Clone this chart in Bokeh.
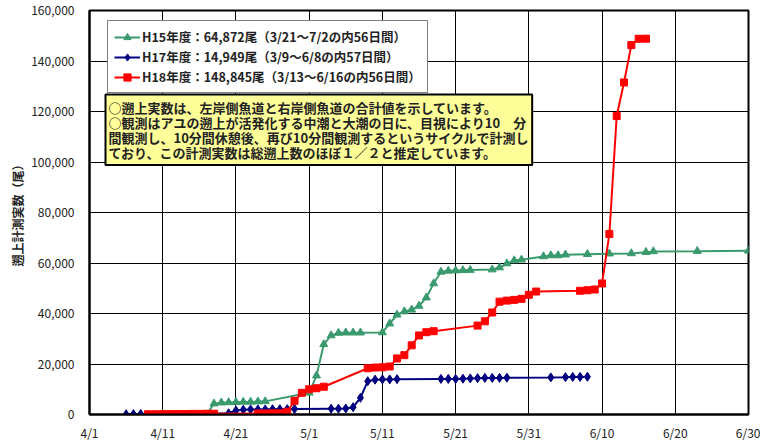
from datetime import date
from bokeh.plotting import figure
from bokeh.models import (Range1d, FixedTicker, NumeralTickFormatter, Legend,
                          LegendItem, Label)
from bokeh.embed import file_html
from bokeh.resources import INLINE

# ---------------- data ----------------
x_tick_labels = ["4/1", "4/11", "4/21", "5/1", "5/11", "5/21", "5/31", "6/10", "6/20", "6/30"]
y_ticks = [0, 20000, 40000, 60000, 80000, 100000, 120000, 140000, 160000]

series_names = [
    "H15年度：64,872尾（3/21～7/2の内56日間）",
    "H17年度：14,949尾（3/9～6/8の内57日間）",
    "H18年度：148,845尾（3/13～6/16の内56日間）",
]

h15_dates = ["4/17", "4/18", "4/19", "4/20", "4/21", "4/22", "4/23", "4/24", "4/25",
             "5/1", "5/2", "5/3", "5/4", "5/5", "5/6", "5/7", "5/8",
             "5/11", "5/12", "5/13", "5/14", "5/15", "5/16", "5/17", "5/18", "5/19",
             "5/20", "5/21", "5/22", "5/23", "5/26", "5/27", "5/28", "5/29", "5/30",
             "6/2", "6/3", "6/4", "6/5", "6/8", "6/11", "6/14", "6/16", "6/17", "6/23",
             "6/30", "7/2"]
h15_counts = [0, 4300, 4700, 4800, 4900, 5000, 5000, 5100, 5200,
              8600, 15400, 27800, 31300, 32300, 32400, 32400, 32400,
              32500, 36000, 39500, 40800, 41500, 43000, 46300, 51900, 56500,
              56900, 57000, 57100, 57200, 57400, 58200, 59800, 61000, 61300,
              62600, 63000, 63000, 63300, 63500, 63700, 63800, 64300, 64600, 64700,
              64850, 64872]

h17_dates = ["4/6", "4/7", "4/8", "4/20", "4/21", "4/22", "4/23", "4/24", "4/25",
             "4/26", "4/27", "4/28", "4/29", "5/4", "5/5", "5/6", "5/7", "5/8",
             "5/9", "5/10", "5/11", "5/12", "5/13", "5/19", "5/20", "5/21", "5/22",
             "5/23", "5/24", "5/25", "5/26", "5/27", "5/28", "6/3", "6/5", "6/6",
             "6/7", "6/8"]
h17_counts = [100, 150, 200, 500, 1600, 1900, 2000, 2000, 2000,
              2100, 2100, 2100, 2200, 2300, 2300, 2400, 2900, 6600,
              13200, 13800, 13900, 13900, 14000, 14100, 14100, 14100, 14200,
              14300, 14400, 14500, 14500, 14500, 14600, 14700, 14800, 14900,
              14900, 14949]

h18_dates = ["4/9", "4/10", "4/11", "4/12", "4/13", "4/14", "4/15", "4/16", "4/17", "4/18",
             "4/24", "4/25", "4/26", "4/27", "4/28", "4/29", "4/30", "5/1", "5/2", "5/3",
             "5/9", "5/10", "5/11", "5/12", "5/13", "5/14", "5/15", "5/16", "5/17", "5/18",
             "5/24", "5/25", "5/26", "5/27", "5/28", "5/29", "5/30", "5/31", "6/1",
             "6/7", "6/8", "6/9", "6/10", "6/11", "6/12", "6/13", "6/14", "6/15", "6/16"]
h18_counts = [100, 100, 150, 150, 200, 200, 250, 250, 300, 300,
              400, 400, 500, 500, 1100, 5400, 8600, 10000, 10400, 11000,
              18300, 18600, 18700, 19000, 22200, 23500, 27400, 31300, 32600, 33000,
              35200, 36900, 40400, 44700, 45100, 45400, 45800, 47400, 48700,
              49000, 49200, 49500, 51900, 71500, 118200, 131500, 146300, 148800, 148845]

note_lines = [
    "○遡上実数は、左岸側魚道と右岸側魚道の合計値を示しています。",
    "○観測はアユの遡上が活発化する中潮と大潮の日に、目視により10　分",
    "間観測し、10分間休憩後、再び10分間観測するというサイクルで計測し",
    "ており、この計測実数は総遡上数のほぼ１／２と推定しています。",
]
y_title = "遡上計測実数（尾）"


def day_index(s):
    m, d = map(int, s.split("/"))
    return (date(2006, m, d) - date(2006, 4, 1)).days


x_ticks = [day_index(s) for s in x_tick_labels]

FONT = "Noto Sans CJK JP"

p = figure(width=760, height=443, output_backend="svg", toolbar_location=None,
           x_range=Range1d(x_ticks[0], x_ticks[-1]), y_range=Range1d(y_ticks[0], y_ticks[-1]),
           min_border_left=89, min_border_right=12, min_border_top=10, min_border_bottom=27)
p.background_fill_color = "white"
p.border_fill_color = "white"
p.outline_line_color = "black"
p.outline_line_width = 2

p.xaxis.ticker = FixedTicker(ticks=x_ticks)
p.xaxis.major_label_overrides = {t: l for t, l in zip(x_ticks, x_tick_labels)}
p.yaxis.ticker = FixedTicker(ticks=y_ticks)
p.yaxis.formatter = NumeralTickFormatter(format="0,0")
for ax in (p.xaxis, p.yaxis):
    ax.axis_line_color = "black"
    ax.axis_line_width = 2
    ax.major_tick_out = 0
    ax.major_tick_in = 0
    ax.minor_tick_line_color = None
    ax.major_label_text_font = FONT
    ax.major_label_text_font_size = "12px"
    ax.major_label_text_color = "#222222"
p.xaxis.major_label_standoff = 9
p.yaxis.major_label_standoff = 15
p.yaxis.axis_label = y_title
p.yaxis.axis_label_text_font = FONT
p.yaxis.axis_label_text_font_size = "12px"
p.yaxis.axis_label_text_font_style = "bold"
p.yaxis.axis_label_text_color = "#222222"
p.yaxis.axis_label_standoff = 2

p.xgrid.ticker = FixedTicker(ticks=x_ticks)
p.ygrid.ticker = FixedTicker(ticks=y_ticks)
p.grid.grid_line_color = "black"
p.grid.grid_line_width = 1

GREEN = "#3A9A6E"
NAVY = "#000080"
RED = "#FF0000"

gx = [day_index(s) for s in h15_dates]
bx = [day_index(s) for s in h17_dates]
rx = [day_index(s) for s in h18_dates]

g_line = p.line(gx, h15_counts, line_color=GREEN, line_width=2)
g_pts = p.scatter(gx, h15_counts, marker="triangle", size=8, fill_color=GREEN, line_color=GREEN)
b_line = p.line(bx, h17_counts, line_color=NAVY, line_width=2)
b_pts = p.scatter(bx, h17_counts, marker="diamond", size=9, fill_color=NAVY, line_color=NAVY)
r_line = p.line(rx, h18_counts, line_color=RED, line_width=2)
r_pts = p.scatter(rx, h18_counts, marker="square", size=7, fill_color=RED, line_color=RED)

legend = Legend(items=[
    LegendItem(label=series_names[0], renderers=[g_line, g_pts]),
    LegendItem(label=series_names[1], renderers=[b_line, b_pts]),
    LegendItem(label=series_names[2], renderers=[r_line, r_pts]),
], location=(18, 321))
legend.label_text_font = FONT
legend.label_text_font_size = "12.5px"
legend.label_text_font_style = "bold"
legend.label_text_color = "#222222"
legend.glyph_width = 26
legend.glyph_height = 18
legend.label_height = 18
legend.label_standoff = 2
legend.spacing = 1
legend.padding = 6
legend.margin = 0
legend.border_line_color = "black"
legend.border_line_width = 1.5
legend.background_fill_color = "white"
legend.background_fill_alpha = 1
p.add_layout(legend)

note = Label(x=16, y=320, x_units="screen", y_units="screen", anchor="top_left",
             text="\n".join(note_lines), text_font=FONT, text_font_size="13px",
             text_font_style="bold", text_color="#222222", text_line_height=0.8,
             background_fill_color="#FFFF99", background_fill_alpha=1,
             border_line_color="black", border_line_width=2, padding=3)
p.add_layout(note)

open("out.html", "w").write(file_html(p, INLINE))
